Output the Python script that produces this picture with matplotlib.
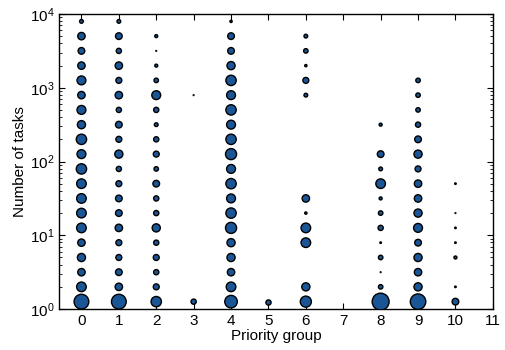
import matplotlib
matplotlib.use('Agg')
import matplotlib.pyplot as plt
from matplotlib.ticker import LogLocator

plt.rcParams['font.family'] = ['Liberation Sans', 'DejaVu Sans']

# bin centres on the y axis (number of tasks)
bin_centers = [1.26, 2.0, 3.16, 5.0, 7.94, 12.6, 20.0, 31.6, 50.1, 79.4,
               126, 200, 316, 501, 794, 1259, 1995, 3162, 5012, 7943]

# relative marker diameter for each priority group, one value per bin (0 = empty)
group0 = [44, 30, 24, 26, 24, 30, 30, 30, 30, 32, 28, 32, 26, 28, 24, 28, 24, 22, 24, 14]
group1 = [44, 24, 22, 20, 20, 24, 22, 22, 20, 18, 26, 20, 22, 18, 24, 20, 24, 18, 22, 14]
group2 = [32, 20, 18, 20, 18, 26, 18, 18, 22, 16, 20, 18, 14, 18, 28, 16, 12, 6, 12, 0]
group3 = [18, 0, 0, 0, 0, 0, 0, 0, 0, 0, 0, 0, 0, 0, 6, 0, 0, 0, 0, 0]
group4 = [38, 30, 24, 26, 26, 34, 32, 28, 32, 28, 34, 32, 28, 32, 28, 32, 26, 22, 22, 10]
group5 = [18, 0, 0, 0, 0, 0, 0, 0, 0, 0, 0, 0, 0, 0, 0, 0, 0, 0, 0, 0]
group6 = [34, 26, 0, 0, 30, 30, 10, 24, 0, 0, 0, 0, 0, 0, 14, 20, 10, 16, 14, 0]
group7 = [0] * 20
group8 = [50, 16, 6, 16, 8, 18, 16, 12, 30, 14, 22, 0, 12, 0, 0, 0, 0, 0, 0, 0]
group9 = [46, 26, 24, 26, 22, 28, 26, 24, 24, 20, 26, 22, 18, 16, 16, 16, 0, 0, 0, 0]
group10 = [22, 8, 0, 12, 8, 8, 6, 0, 8, 0, 0, 0, 0, 0, 0, 0, 0, 0, 0, 0]

groups = [group0, group1, group2, group3, group4, group5,
          group6, group7, group8, group9, group10]

fig = plt.figure(figsize=(5.06, 3.5), dpi=100)
ax = fig.add_axes([0.1166, 0.117, 0.8574, 0.843])

edge_lw = 1.0
for g, diam in enumerate(groups):
    xs, ys, ss = [], [], []
    for yc, d in zip(bin_centers, diam):
        if d <= 0:
            continue
        d_pt = d / 3 * 0.72 * 1.1
        xs.append(g)
        ys.append(yc)
        ss.append(max(d_pt - edge_lw, 0.6) ** 2)
    if xs:
        ax.scatter(xs, ys, s=ss, c='#1a5596', edgecolors='black',
                   linewidths=edge_lw, zorder=3)

ax.set_yscale('log')
ax.set_ylim(1, 1e4)
ax.set_xlim(-0.6, 11)
ax.set_xticks(range(0, 12))
ax.yaxis.set_minor_locator(LogLocator(base=10, subs=range(2, 10), numticks=20))

ax.tick_params(which='both', direction='in', top=True, right=True, labelsize=11)
ax.tick_params(which='major', length=4, width=0.8)
ax.tick_params(which='minor', length=2, width=0.6)
ax.tick_params(axis='x', which='minor', top=False, bottom=False)
for sp in ax.spines.values():
    sp.set_linewidth(1.0)

ax.set_xlabel('Priority group', fontsize=11, labelpad=1)
ax.set_ylabel('Number of tasks', fontsize=11, labelpad=2)

fig.savefig('out.png', dpi=100)
